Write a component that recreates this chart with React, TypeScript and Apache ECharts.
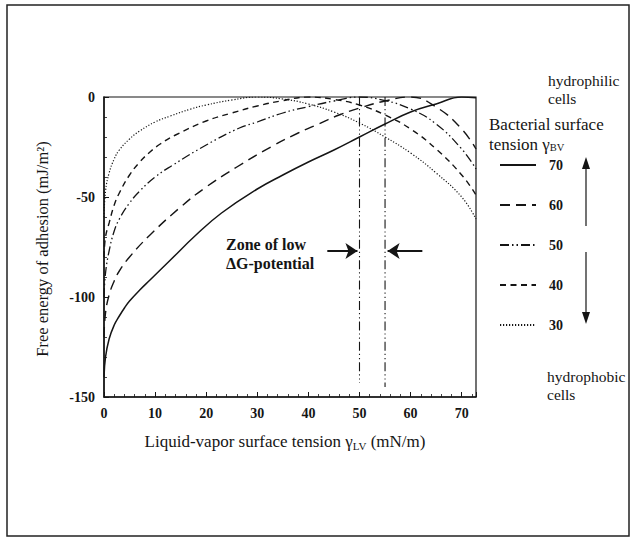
import React, { useEffect, useRef } from 'react';
import * as echarts from 'echarts';

const FONT = "'Liberation Serif', 'Times New Roman', serif";
const INK = '#151515';

// Bacterial surface tension (legend names)
const seriesNames = ['70', '60', '50', '40', '30'];

// [liquid-vapor surface tension, free energy of adhesion]
const gamma70 = [[0, -140], [0.3, -130], [1, -121], [2, -114], [3, -109.5], [4, -105.5], [5, -102], [7, -96.5], [9, -91.5], [13, -81.5], [18, -69], [23, -58], [30, -46], [35, -39], [40, -32.5], [45, -26.5], [50, -20], [55, -13.5], [60, -7.5], [65, -3.5], [70, 0], [72.8, -0.4]];
const gamma60 = [[0, -120], [0.3, -108], [1, -99], [2, -92], [3, -87], [5, -80], [9, -69], [15, -55], [20, -45], [26, -35], [33, -24.5], [38, -18], [42, -13.5], [46, -9], [50, -5.5], [55, -2], [60, 0], [65, -5], [70, -16], [72.8, -26]];
const gamma50 = [[0, -100], [0.3, -88], [1, -77], [2, -67], [3, -61], [5, -53], [7, -47], [10, -40], [13.5, -34], [20, -24], [26.5, -15.5], [30, -12.5], [35, -8], [40, -4.8], [45, -2], [50, 0], [55, -1.8], [60, -6], [65, -13.5], [70, -26], [72.8, -36]];
const gamma40 = [[0, -80], [0.3, -70], [1, -63], [2, -54], [3, -48], [5, -39], [7, -32.5], [9, -27.5], [11, -23.5], [14, -19], [20, -12], [25, -8], [30, -4.5], [35, -1.8], [40, 0], [45, -1.2], [50, -4], [55, -9], [60, -16], [65, -26], [70, -39], [72.8, -49]];
const gamma30 = [[0, -60], [0.3, -47], [1, -38], [2, -31], [3, -26.5], [5, -21], [7, -17], [10, -12.5], [13, -9.5], [17, -6], [20, -4], [25, -1.5], [30, 0], [35, -1], [40, -3.5], [45, -7.5], [50, -13], [55, -20], [60, -28], [65, -38], [70, -50], [72.8, -61]];

// zone of low ΔG-potential boundaries
const zoneLeft = [[50, 0], [50, -143]];
const zoneRight = [[55, 0], [55, -145]];
const zoneArrowLeft = [[43.7, -77], [49.6, -77]];
const zoneArrowRight = [[62.3, -77], [55.5, -77]];

const xMin = 0;
const xMax = 72.8;
const xInterval = 10;
const yMin = -150;
const yMax = 0;
const yInterval = 50;

export default function App() {
  const ref = useRef<HTMLDivElement>(null);

  useEffect(() => {
    const chart = echarts.init(ref.current!, null, { renderer: 'svg' });
    const curves = [gamma70, gamma60, gamma50, gamma40, gamma30];
    const dashes: any[] = ['solid', [10, 6], [9, 3, 1.5, 3, 1.5, 3], [6, 4.5], [1.2, 1.8]];
    const widths = [1.5, 1.4, 1.3, 1.4, 1.2];

    const axisCommon = {
      axisLine: { show: true, onZero: false, lineStyle: { color: INK, width: 1.5 } },
      axisTick: { show: true, inside: true, length: 5, lineStyle: { color: INK, width: 1 } },
      minorTick: { show: true, length: 3, lineStyle: { color: INK, width: 0.8 } },
      splitLine: { show: false },
    };

    const lineSeries: any[] = curves.map((d, i) => ({
      name: seriesNames[i],
      type: 'line',
      data: d,
      smooth: 0.45,
      symbol: 'none',
      lineStyle: { color: INK, width: widths[i], type: dashes[i] },
      itemStyle: { color: INK },
      z: 3,
    }));

    const vStyle = { color: INK, width: 1.1, type: [9, 3, 1.2, 3, 1.2, 3] };

    const option: any = {
      animation: false,
      backgroundColor: '#ffffff',
      grid: { left: 104, top: 97, width: 372, height: 300, show: true, borderColor: INK, borderWidth: 1.2, backgroundColor: 'transparent' },
      xAxis: {
        type: 'value',
        min: xMin,
        max: xMax,
        interval: xInterval,
        ...axisCommon,
        minorTick: { ...axisCommon.minorTick, splitNumber: 5 },
        axisLabel: {
          formatter: (v: number) => (Math.abs(v % 10) < 1e-9 ? String(v) : ''),
          fontFamily: FONT, fontWeight: 'bold', fontSize: 14, color: INK, margin: 9,
          showMaxLabel: false,
        },
      },
      yAxis: {
        type: 'value',
        min: yMin,
        max: yMax,
        interval: yInterval,
        ...axisCommon,
        minorTick: { ...axisCommon.minorTick, splitNumber: 5 },
        axisLabel: { fontFamily: FONT, fontWeight: 'bold', fontSize: 14, color: INK, margin: 9 },
      },
      legend: {
        data: seriesNames,
        orient: 'vertical',
        left: 494,
        top: 153,
        itemWidth: 36,
        itemHeight: 14,
        itemGap: 26,
        itemStyle: { opacity: 0 },
        textStyle: { fontFamily: FONT, fontWeight: 'bold', fontSize: 14, color: INK, padding: [0, 0, 0, 8] },
        selectedMode: false,
      },
      series: [
        ...lineSeries,
        {
          name: 'zoneLeft', type: 'line', data: zoneLeft, symbol: 'none', lineStyle: vStyle, z: 2,
          markLine: {
            silent: true, symbol: ['none', 'arrow'], symbolSize: 12, label: { show: false },
            lineStyle: { color: INK, width: 2, type: 'solid' },
            data: [
              [{ coord: zoneArrowLeft[0] }, { coord: zoneArrowLeft[1] }],
              [{ coord: zoneArrowRight[0] }, { coord: zoneArrowRight[1] }],
            ],
          },
        },
        { name: 'zoneRight', type: 'line', data: zoneRight, symbol: 'none', lineStyle: vStyle, z: 2 },
      ],
      graphic: [
        { type: 'rect', shape: { x: 7, y: 5, width: 622, height: 531 }, style: { fill: 'none', stroke: '#222', lineWidth: 1.5 }, silent: true },
        {
          type: 'text', x: 42, y: 249, rotation: Math.PI / 2,
          style: { text: 'Free energy of adhesion (mJ/m²)', font: `16.5px ${FONT}`, fill: INK, textAlign: 'center', textVerticalAlign: 'middle' },
        },
        {
          type: 'text', x: 285, y: 441,
          style: {
            text: '{a|Liquid-vapor surface tension γ}{s|LV}{a| (mN/m)}',
            textAlign: 'center', textVerticalAlign: 'middle',
            rich: {
              a: { font: `17px ${FONT}`, fill: INK, lineHeight: 20, verticalAlign: 'middle' },
              s: { font: `11px ${FONT}`, fill: INK, lineHeight: 12, verticalAlign: 'bottom' },
            },
          },
        },
        {
          type: 'text', x: 226, y: 244,
          style: { text: 'Zone of low', font: `bold 16px ${FONT}`, fill: INK, textVerticalAlign: 'middle' },
        },
        {
          type: 'text', x: 226, y: 263,
          style: { text: 'ΔG-potential', font: `bold 16px ${FONT}`, fill: INK, textVerticalAlign: 'middle' },
        },
        { type: 'text', x: 548, y: 80, style: { text: 'hydrophilic', font: `15.5px ${FONT}`, fill: INK, textVerticalAlign: 'middle' } },
        { type: 'text', x: 548, y: 98, style: { text: 'cells', font: `15.5px ${FONT}`, fill: INK, textVerticalAlign: 'middle' } },
        { type: 'text', x: 489, y: 124, style: { text: 'Bacterial surface', font: `17px ${FONT}`, fill: INK, textVerticalAlign: 'middle' } },
        {
          type: 'text', x: 489, y: 144,
          style: {
            text: '{a|tension γ}{s|BV}',
            textVerticalAlign: 'middle',
            rich: {
              a: { font: `17px ${FONT}`, fill: INK, lineHeight: 17, verticalAlign: 'middle' },
              s: { font: `10.5px ${FONT}`, fill: INK, lineHeight: 11, verticalAlign: 'bottom' },
            },
          },
        },
        { type: 'text', x: 547, y: 376, style: { text: 'hydrophobic', font: `15.5px ${FONT}`, fill: INK, textVerticalAlign: 'middle' } },
        { type: 'text', x: 547, y: 394, style: { text: 'cells', font: `15.5px ${FONT}`, fill: INK, textVerticalAlign: 'middle' } },
        { type: 'line', shape: { x1: 586, y1: 226, x2: 586, y2: 166 }, style: { stroke: INK, lineWidth: 1.2 } },
        { type: 'polygon', shape: { points: [[586, 157], [582, 169], [590, 169]] }, style: { fill: INK } },
        { type: 'line', shape: { x1: 586, y1: 252, x2: 586, y2: 314 }, style: { stroke: INK, lineWidth: 1.2 } },
        { type: 'polygon', shape: { points: [[586, 324], [582, 312], [590, 312]] }, style: { fill: INK } },
      ],
    };

    chart.setOption(option);
    return () => chart.dispose();
  }, []);

  return <div ref={ref} style={{ position: 'fixed', left: 0, top: 0, width: 634, height: 537, background: '#fff' }} />;
}
